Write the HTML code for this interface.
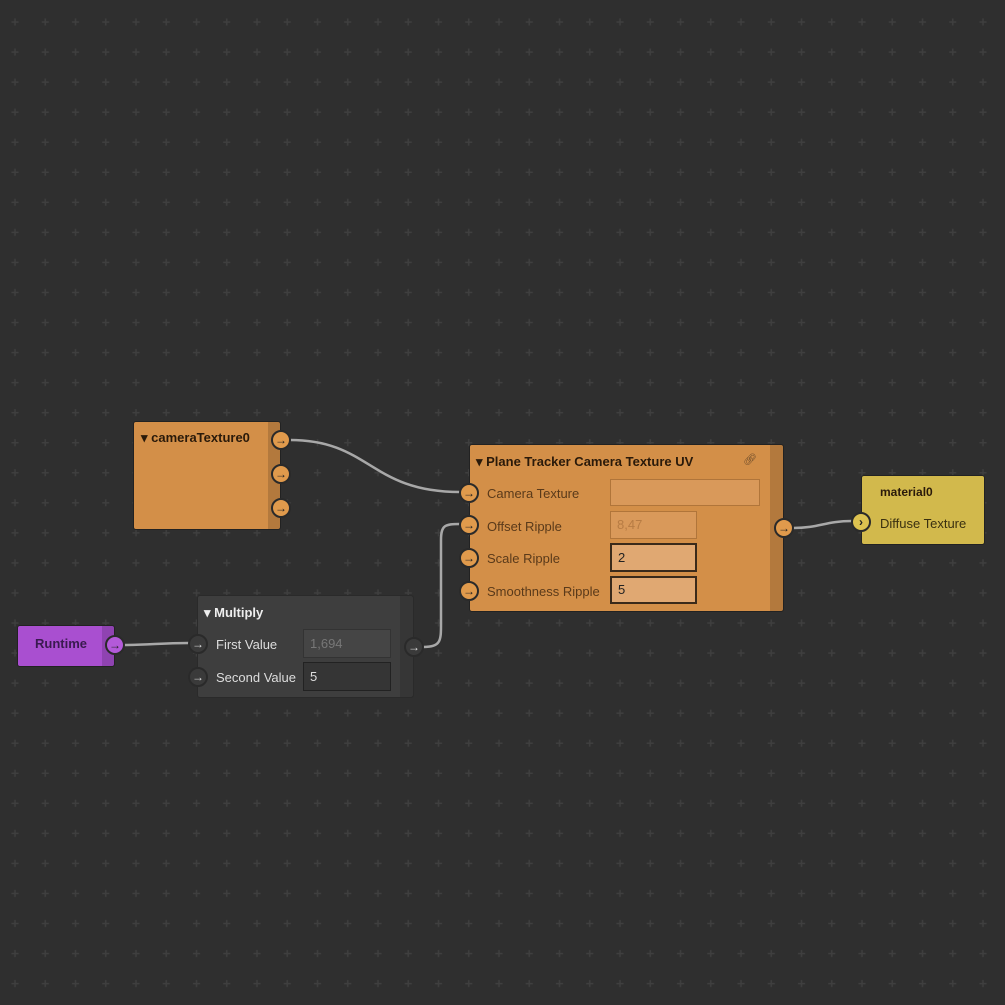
<!DOCTYPE html>
<html><head><meta charset="utf-8"><style>
html,body{margin:0;padding:0;width:1005px;height:1005px;overflow:hidden;background:#2f2f2f;font-family:"Liberation Sans",sans-serif}
.n{position:absolute;border-radius:3px;box-sizing:border-box;border:1px solid #222}
.strip{position:absolute;top:0;bottom:0;right:0;width:12px;background:rgba(0,0,0,0.15)}
.t{position:absolute;font-size:13px;font-weight:bold;color:#2a1a0a;white-space:nowrap}
.l{position:absolute;font-size:13px;color:#5a3a1a;white-space:nowrap}
.p{position:absolute;width:20px;height:20px;border-radius:50%;box-sizing:border-box;border:2px solid #2a2a2a;font-size:12px;line-height:16px;text-align:center;color:#222;font-weight:bold}
.f{position:absolute;box-sizing:border-box;border:2px solid #3a2a1a;font-size:13px;padding-left:6px;color:#222}
</style></head><body>
<svg width="1005" height="1005" style="position:absolute;left:0;top:0">
<defs><pattern id="g" x="0" y="7" width="30.25" height="30.05" patternUnits="userSpaceOnUse">
<path d="M15 11.5v7M11.5 15h7" stroke="#3f3f3f" stroke-width="1.5"/></pattern></defs>
<rect width="1005" height="1005" fill="url(#g)"/>
<g fill="none" stroke="#a8a8a8" stroke-width="2.5">
<path d="M290 440 C370 440,370 492,460 492"/>
<path d="M423 647 C442 647,441 640,441 620 L441 540 C441 525,445 524,460 524"/>
<path d="M123 645 C150 645,160 643,189 643"/>
<path d="M793 528 C820 528,825 521,852 521"/>
</g></svg>

<div class="n" style="left:133px;top:421px;width:148px;height:109px;background:#d38f48"><div class="strip"></div></div>
<div class="t" style="left:141px;top:430px">▾ cameraTexture0</div>
<div class="p" style="left:271px;top:430px;background:#e09a4c">→</div>
<div class="p" style="left:271px;top:464px;background:#e09a4c">→</div>
<div class="p" style="left:271px;top:498px;background:#e09a4c">→</div>

<div class="n" style="left:469px;top:444px;width:315px;height:168px;background:#d38f48"><div class="strip" style="width:13px"></div></div>
<div class="t" style="left:476px;top:454px">▾ Plane Tracker Camera Texture UV</div>
<div class="l" style="left:743px;top:453px;font-size:11px;color:#6a4a2a">🔗︎</div>
<div class="l" style="left:487px;top:486px">Camera Texture</div>
<div class="l" style="left:487px;top:519px">Offset Ripple</div>
<div class="l" style="left:487px;top:551px">Scale Ripple</div>
<div class="l" style="left:487px;top:584px">Smoothness Ripple</div>
<div class="f" style="left:610px;top:479px;width:150px;height:27px;border:1px solid #b0753a;background:#d9995a"></div>
<div class="f" style="left:610px;top:511px;width:87px;height:28px;border:1px solid #b0753a;background:#d9995a;color:#b77c44;line-height:26px">8,47</div>
<div class="f" style="left:610px;top:543px;width:87px;height:29px;background:#e0a872;line-height:25px">2</div>
<div class="f" style="left:610px;top:576px;width:87px;height:28px;background:#e0a872;line-height:24px">5</div>
<div class="p" style="left:459px;top:483px;background:#e09a4c">→</div>
<div class="p" style="left:459px;top:515px;background:#e09a4c">→</div>
<div class="p" style="left:459px;top:548px;background:#e09a4c">→</div>
<div class="p" style="left:459px;top:581px;background:#e09a4c">→</div>
<div class="p" style="left:774px;top:518px;background:#e09a4c">→</div>

<div class="n" style="left:861px;top:475px;width:124px;height:70px;background:#d2b94c"></div>
<div class="t" style="left:880px;top:485px;font-size:12px">material0</div>
<div class="l" style="left:880px;top:516px;color:#3a3010">Diffuse Texture</div>
<div class="p" style="left:851px;top:512px;background:#dcc250">›</div>

<div class="n" style="left:17px;top:625px;width:98px;height:42px;background:#a94fd0"><div class="strip"></div></div>
<div class="t" style="left:35px;top:636px;color:#3a1a50">Runtime</div>
<div class="p" style="left:105px;top:635px;background:#b35ad9">→</div>

<div class="n" style="left:197px;top:595px;width:217px;height:103px;background:#3e3e3e;border-color:#2a2a2a"><div class="strip" style="width:13px;background:rgba(0,0,0,0.12)"></div></div>
<div class="t" style="left:204px;top:605px;color:#eee">▾ Multiply</div>
<div class="l" style="left:216px;top:637px;color:#ddd">First Value</div>
<div class="l" style="left:216px;top:670px;color:#ddd">Second Value</div>
<div class="f" style="left:303px;top:629px;width:88px;height:29px;border:1px solid #333;background:#454545;color:#777;line-height:27px">1,694</div>
<div class="f" style="left:303px;top:662px;width:88px;height:29px;border:1px solid #222;background:#353535;color:#ddd;line-height:27px">5</div>
<div class="p" style="left:188px;top:634px;background:#3a3a3a;color:#ddd;border-color:#2a2a2a">→</div>
<div class="p" style="left:188px;top:667px;background:#3a3a3a;color:#ddd;border-color:#2a2a2a">→</div>
<div class="p" style="left:404px;top:637px;background:#3a3a3a;color:#ddd;border-color:#2a2a2a">→</div>
</body></html>
